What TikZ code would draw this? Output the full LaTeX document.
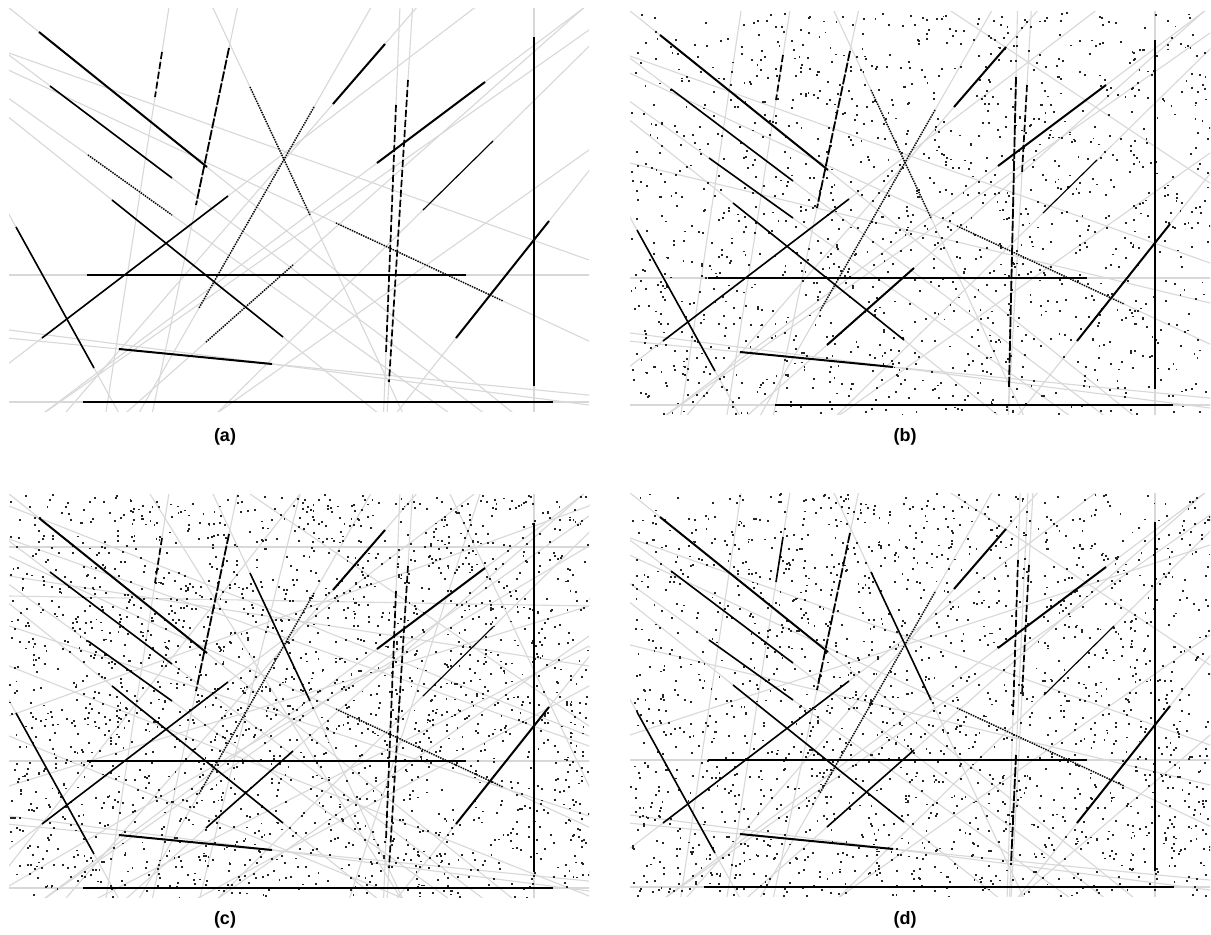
\documentclass[tikz,border=0pt]{standalone}
\usepackage{fontspec}
\newfontfamily\labfont{Liberation Sans}
\usetikzlibrary{calc}
\definecolor{glc}{RGB}{216,216,216}
\tikzset{
  gline/.style={draw=glc,line width=1.1pt},
  segthick/.style={draw=black,line width=2pt},
  segmid/.style={draw=black,line width=1.6pt},
  segthin/.style={draw=black,line width=1.1pt},
  segdot/.style={draw=black,line width=1.5pt,dash pattern=on 1.3pt off 1.2pt},
  segdash/.style={draw=black,line width=1.7pt,dash pattern=on 7pt off 3pt},
  segdashb/.style={draw=black,line width=1.8pt,dash pattern=on 10pt off 2pt},
  lab/.style={font=\labfont\bfseries\fontsize{18}{21}\selectfont,inner sep=0pt},
}
% segments of panel (a) family
\def\segsA{39/32/207/167/segthick, 50/86/172/178/segmid, 88/155/172/215/segdot,
 112/200/283/337/segmid, 16/227/94/368/segmid, 42/338/228/196/segmid,
 87/275/466/275/segthick, 119/349/272/364/segthick, 83/402/553/402/segthick,
 314/107/199/308/segdot, 250/87/310/215/segdot, 162/52/155/97/segdash,
 229/48/196/205/segdashb, 333/104/385/44/segthick, 377/163/485/82/segthick,
 423/210/493/141/segthin, 534/37/534/386/segthick, 396/105/386/353/segdash,
 408/80/389/382/segdash, 336/223/503/301/segdot, 456/338/549/221/segthick,
 206/342/293/265/segdot}
\def\segsC{39/32/207/167/segthick, 50/86/172/178/segmid, 88/155/172/215/segmid,
 112/200/283/337/segmid, 16/227/94/368/segmid, 42/338/228/196/segmid,
 87/275/466/275/segthick, 119/349/272/364/segthick, 83/402/553/402/segthick,
 314/107/199/308/segdot, 250/87/310/215/segmid, 162/52/155/97/segdash,
 229/48/196/205/segdashb, 333/104/385/44/segthick, 377/163/485/82/segthick,
 423/210/493/141/segthin, 534/37/534/386/segthick, 396/105/386/353/segdash,
 408/80/389/382/segdash, 336/223/503/301/segdot, 456/338/549/221/segthick,
 206/342/293/265/segmid}
\def\segsD{39/32/207/167/segthick, 50/86/172/178/segmid, 88/155/172/215/segmid,
 112/200/283/337/segmid, 16/227/94/368/segmid, 42/338/228/196/segmid,
 87/275/466/275/segthick, 119/349/272/364/segthick, 83/402/553/402/segthick,
 314/107/199/308/segdot, 250/87/310/215/segmid, 162/52/155/97/segmid,
 229/48/196/205/segdashb, 333/104/385/44/segthick, 377/163/485/82/segthick,
 423/210/493/141/segthin, 534/37/534/386/segthick, 397/75/392/230/segdash,
 408/80/401/210/segdash, 395/270/390/380/segdashb, 336/223/503/301/segdot,
 456/338/549/221/segthick, 206/342/293/265/segmid}
\def\segsB{39/32/207/167/segthick, 50/86/172/178/segmid, 88/155/172/215/segmid,
 112/200/283/337/segmid, 16/227/94/368/segmid, 42/338/228/196/segmid,
 87/275/466/275/segthick, 119/349/272/364/segthick, 154/402/552/402/segthick,
 314/107/199/308/segdot, 250/87/310/215/segdot, 162/52/155/97/segdash,
 229/48/196/205/segdashb, 333/104/385/44/segthick, 377/163/485/82/segthick,
 422/210/476/157/segthin, 534/37/534/386/segthick, 395/74/388/384/segdashb,
 406/82/401/170/segdash, 336/223/503/301/segdot, 456/338/549/221/segthick,
 206/342/293/265/segthick}
% extra gray lines
\def\grayA{47/411/589/30, 220/411/589/150, 9/53/589/260, 9/330/589/405}
\def\grayB{47/411/589/30, 220/411/589/150, 9/53/589/260, 9/330/589/405,
 9/160/589/300, 120/8/60/411, 330/8/589/180}
\def\grayC{47/411/589/30, 220/411/589/150, 9/53/589/260, 9/330/589/405,
 9/61/589/61, 9/20/589/250, 9/140/589/330, 9/180/589/410, 9/250/400/411,
 9/300/589/120, 9/400/589/60, 100/411/589/160, 9/230/589/20, 150/8/400/411,
 300/8/200/411, 450/8/589/300, 9/380/300/8, 200/411/589/200, 9/90/589/180,
 480/8/350/411, 9/110/589/120, 250/8/589/240}
\def\grayD{47/411/589/30, 220/411/589/150, 9/53/589/260, 9/330/589/405,
 9/160/589/300, 120/8/60/411, 330/8/589/180, 9/250/589/60, 400/411/589/250}
\newcommand\drawpanel[6]{%
\begin{scope}[shift={(#1,#2)}]
  \clip (9,8) rectangle (589,411);
  \foreach \xa/\ya/\xb/\yb in #4 {\draw[gline] ($(\xa,\ya)!-12!(\xb,\yb)$) -- ($(\xa,\ya)!13!(\xb,\yb)$);}
  \foreach \xa/\ya/\xb/\yb/\st in #3 {\draw[gline] ($(\xa,\ya)!-14!(\xb,\yb)$) -- ($(\xa,\ya)!15!(\xb,\yb)$);}
  \ifnum#5>0
    \pgfmathsetseed{#6}
    \foreach \i in {1,...,#5} {\pgfmathsetmacro\rx{9+580*rnd}\pgfmathsetmacro\ry{8+403*rnd}\fill[black!85] (\rx,\ry) rectangle ++(1.9,1.9);}
  \fi
  \foreach \xa/\ya/\xb/\yb/\st in #3 {\draw[\st] (\xa,\ya) -- (\xb,\yb);}
\end{scope}}
\begin{document}
\begin{tikzpicture}[x=1pt,y=-1pt]
\useasboundingbox[fill=white] (0,0) rectangle (1211,935);
\drawpanel{0}{0}{\segsA}{\grayA}{0}{11}
\drawpanel{621}{3}{\segsB}{\grayB}{1400}{23}
\drawpanel{0}{486}{\segsC}{\grayC}{2200}{37}
\drawpanel{621}{485}{\segsD}{\grayD}{1900}{41}
\node[lab] (la) at (225,437) {(a)};
\node[lab] (lb) at (905,437) {(b)};
\node[lab] (lc) at (225,920) {(c)};
\node[lab] (ld) at (905,920) {(d)};
\end{tikzpicture}
\end{document}
